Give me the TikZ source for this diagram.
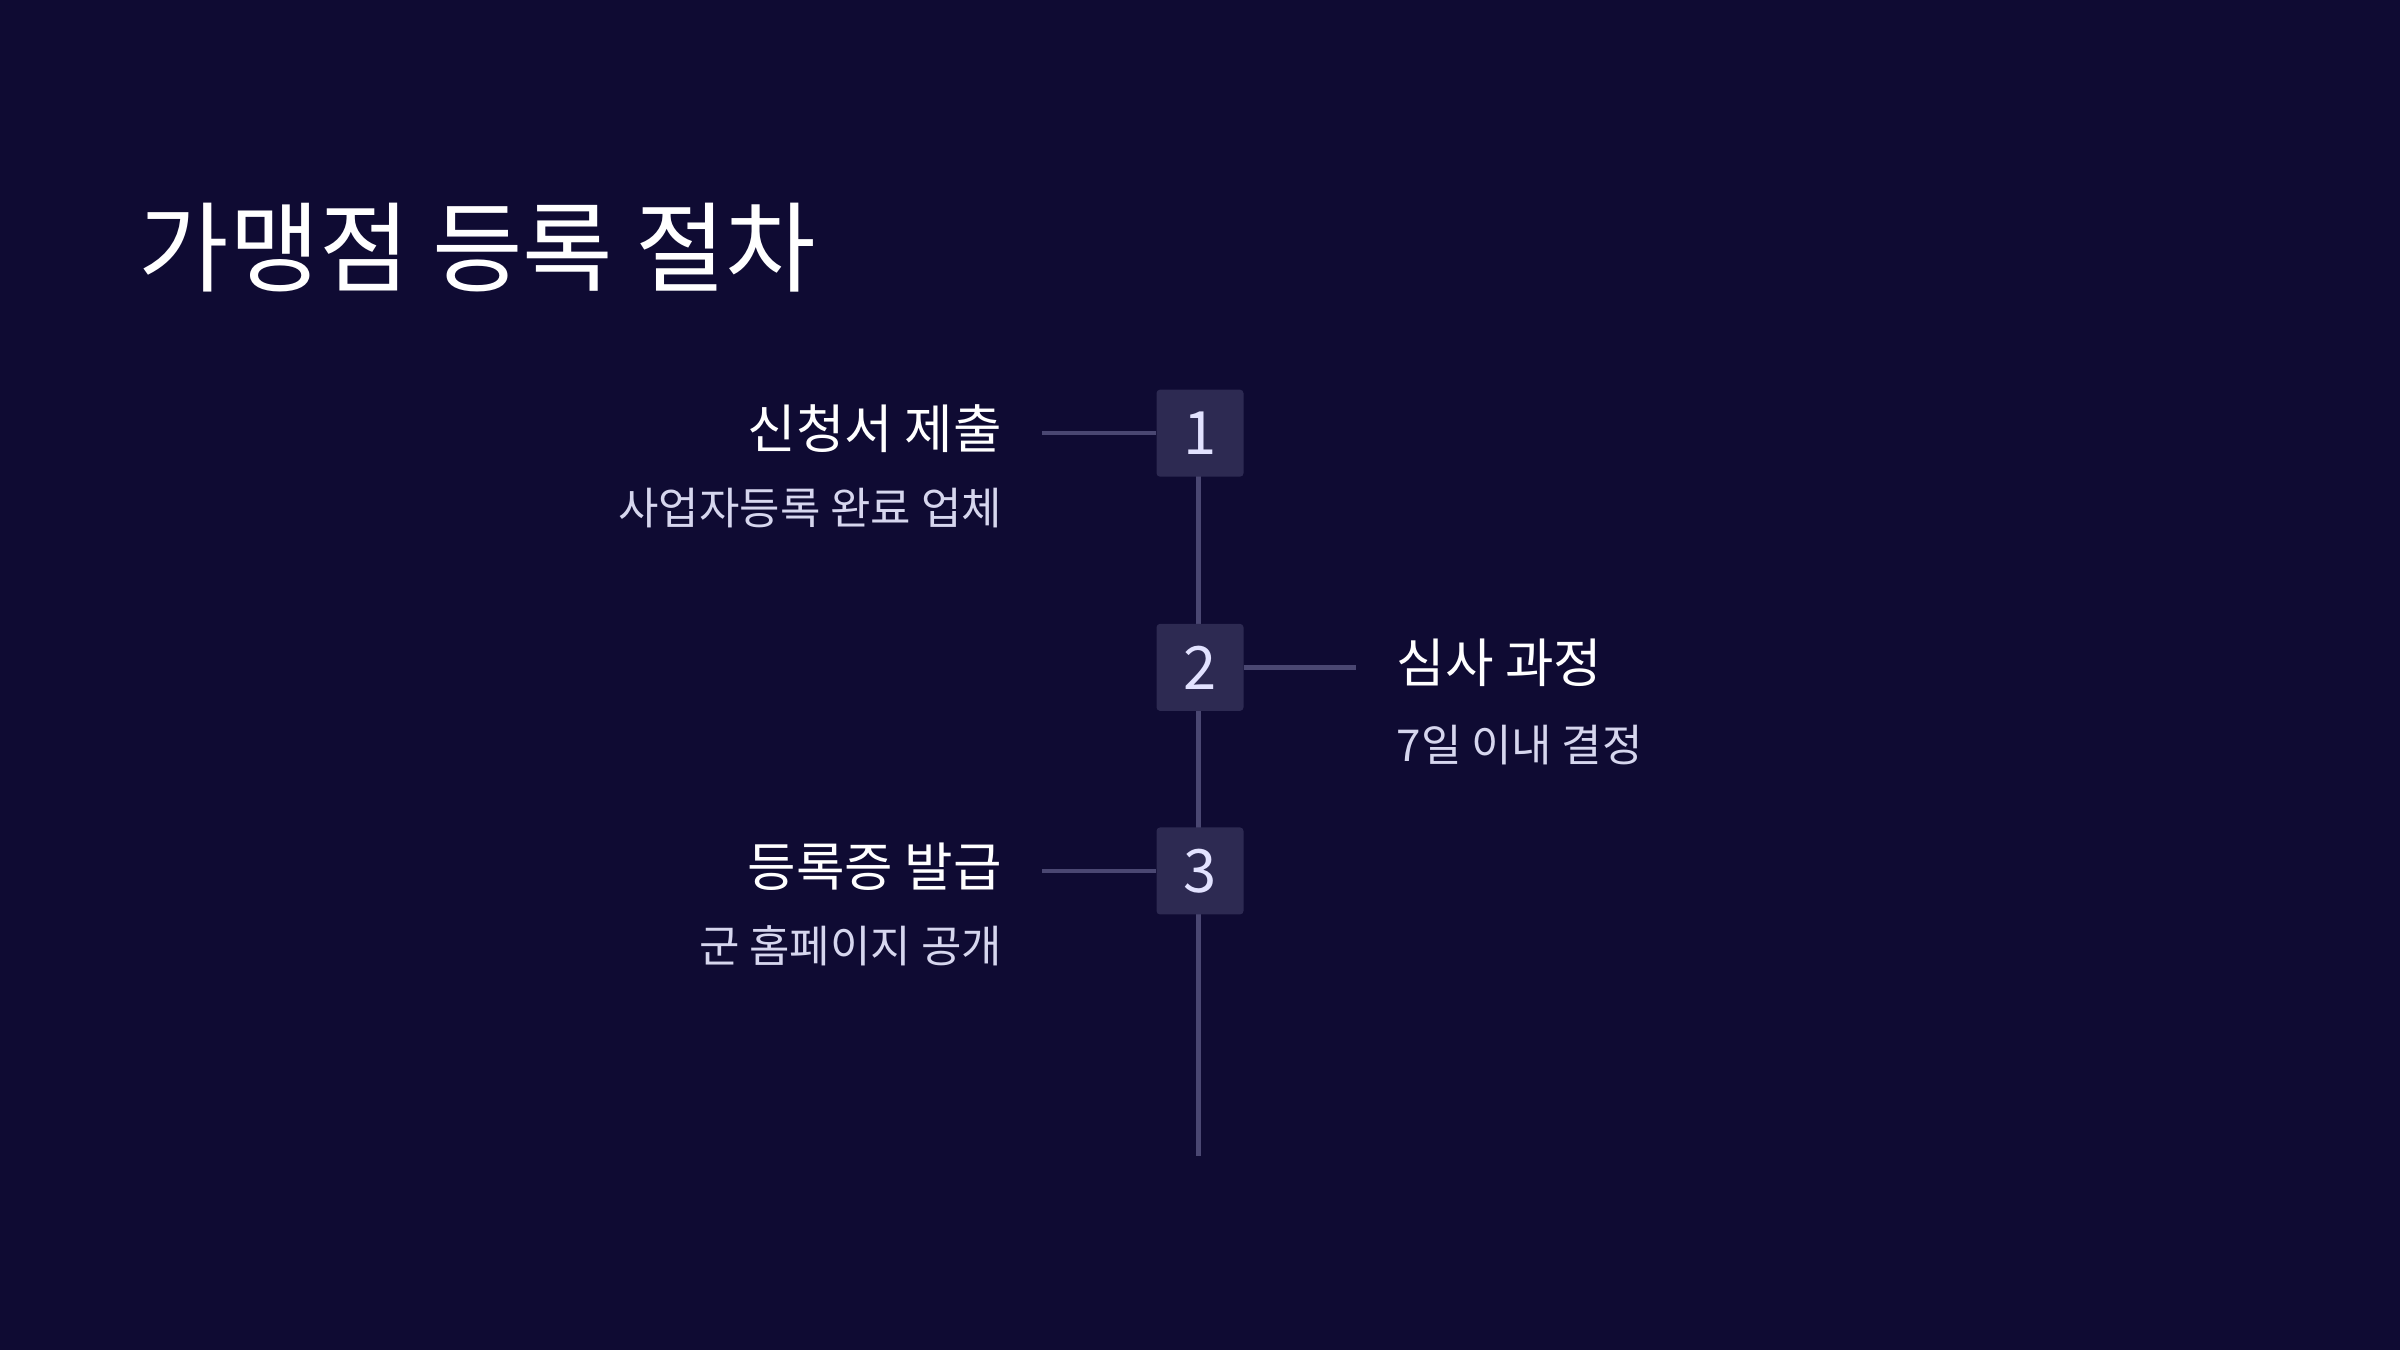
\documentclass[tikz,border=0pt]{standalone}
\usepackage{fontspec}
\setmainfont{Noto Sans CJK KR}
\usetikzlibrary{positioning}
\definecolor{bgcol}{HTML}{0F0B33}
\definecolor{boxcol}{HTML}{2D2A52}
\definecolor{linecol}{HTML}{4A4772}
\definecolor{subcol}{HTML}{D6D6EE}
\definecolor{numcol}{HTML}{E2E2FF}
\tikzset{
  stepbox/.style={fill=boxcol, rounded corners=1pt, minimum size=0.87cm, inner sep=0pt,
    text=numcol, font=\fontsize{17}{20}\selectfont},
  heading/.style={text=white, font=\fontsize{15}{18}\selectfont, inner sep=0pt},
  subline/.style={text=subcol, font=\fontsize{12.5}{15}\selectfont, inner sep=0pt},
  link/.style={draw=linecol, line width=1.3pt}
}
\begin{document}
\begin{tikzpicture}[x=0.01531cm, y=-0.01531cm]
        % Background
        \fill[bgcol] (0,0) rectangle (1568,882);
        \useasboundingbox (0,0) rectangle (1568,882);

        % Title
        \node[anchor=west, text=white, font=\fontsize{28}{32}\selectfont, inner sep=0pt] (title) at (90,162) {가맹점 등록 절차};

        % Timeline
        \coordinate (top) at (783,283);
        \coordinate (bottom) at (783,755);
        \draw[link] (top) -- (bottom);

        % Steps
        \node[stepbox] (s1) at (784,283) {1};
        \node[stepbox] (s2) at (784,436) {2};
        \node[stepbox] (s3) at (784,569) {3};

        % Connectors
        \coordinate (c1) at (681,283);
        \coordinate (c2) at (886,436);
        \coordinate (c3) at (681,569);
        \draw[link] (c1) -- (s1.west);
        \draw[link] (s2.east) -- (c2);
        \draw[link] (c3) -- (s3.west);

        % Labels
        \node[heading, anchor=east] (h1) at (655,280) {신청서 제출};
        \node[subline, anchor=east] (d1) at (655,332) {사업자등록 완료 업체};
        \node[heading, anchor=west] (h2) at (912,433) {심사 과정};
        \node[subline, anchor=west] (d2) at (912,487) {7일 이내 결정};
        \node[heading, anchor=east] (h3) at (655,566) {등록증 발급};
        \node[subline, anchor=east] (d3) at (655,618) {군 홈페이지 공개};
\end{tikzpicture}
\end{document}
